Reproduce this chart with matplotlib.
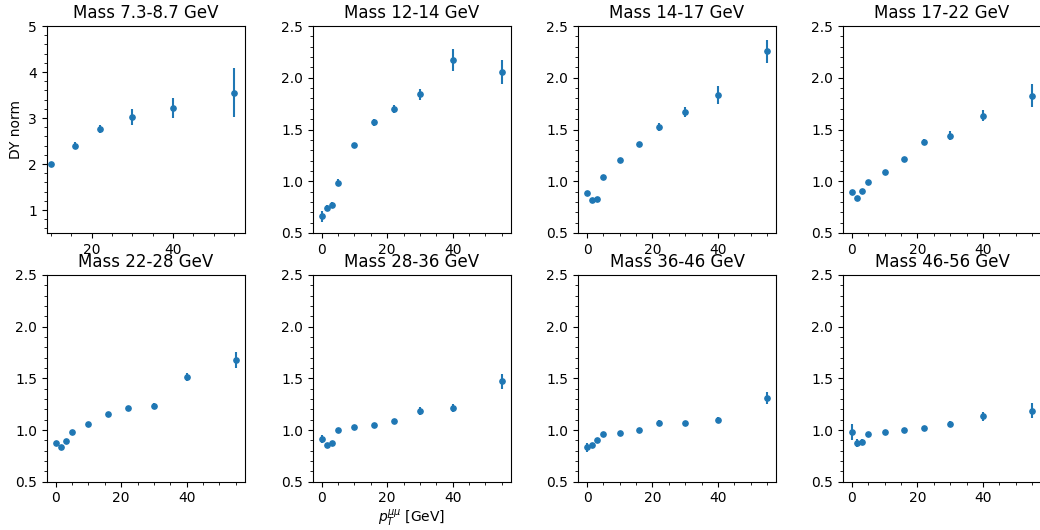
import matplotlib
matplotlib.use("Agg")
import matplotlib.pyplot as plt
from matplotlib.ticker import AutoMinorLocator

# pT bin centres (GeV)
pt_full = [0, 1.5, 3, 5, 10, 16, 22, 30, 40, 55]
pt_low_mass = [10, 16, 22, 30, 40, 55]

mass_bins = ["7.3-8.7", "12-14", "14-17", "17-22",
             "22-28", "28-36", "36-46", "46-56"]

# Normalised Drell-Yan ratio and its uncertainty in each mass bin
dy_7p3_8p7 = [2.00, 2.40, 2.76, 3.02, 3.21, 3.55]
err_7p3_8p7 = [0.05, 0.07, 0.08, 0.17, 0.22, 0.53]

dy_12_14 = [0.661, 0.742, 0.768, 0.987, 1.348, 1.568, 1.700, 1.839, 2.174, 2.055]
err_12_14 = [0.05, 0.03, 0.03, 0.03, 0.02, 0.03, 0.04, 0.05, 0.108, 0.115]

dy_14_17 = [0.887, 0.816, 0.829, 1.042, 1.203, 1.358, 1.523, 1.671, 1.835, 2.255]
err_14_17 = [0.02, 0.015, 0.015, 0.015, 0.015, 0.02, 0.04, 0.05, 0.09, 0.113]

dy_17_22 = [0.894, 0.835, 0.910, 0.997, 1.094, 1.219, 1.377, 1.442, 1.635, 1.826]
err_17_22 = [0.015, 0.015, 0.015, 0.015, 0.015, 0.02, 0.03, 0.04, 0.05, 0.11]

dy_22_28 = [0.871, 0.832, 0.897, 0.981, 1.061, 1.158, 1.213, 1.232, 1.513, 1.677]
err_22_28 = [0.02, 0.015, 0.015, 0.015, 0.015, 0.015, 0.02, 0.03, 0.04, 0.075]

dy_28_36 = [0.916, 0.852, 0.877, 0.997, 1.026, 1.048, 1.090, 1.187, 1.216, 1.471]
err_28_36 = [0.04, 0.015, 0.015, 0.015, 0.015, 0.015, 0.02, 0.04, 0.04, 0.07]

dy_36_46 = [0.832, 0.855, 0.903, 0.965, 0.974, 1.003, 1.071, 1.068, 1.094, 1.310]
err_36_46 = [0.04, 0.02, 0.015, 0.015, 0.015, 0.015, 0.03, 0.02, 0.03, 0.06]

dy_46_56 = [0.981, 0.877, 0.884, 0.958, 0.984, 1.003, 1.023, 1.055, 1.132, 1.187]
err_46_56 = [0.077, 0.04, 0.03, 0.015, 0.015, 0.02, 0.02, 0.03, 0.04, 0.07]

panels = [
    (pt_low_mass, dy_7p3_8p7, err_7p3_8p7),
    (pt_full, dy_12_14, err_12_14),
    (pt_full, dy_14_17, err_14_17),
    (pt_full, dy_17_22, err_17_22),
    (pt_full, dy_22_28, err_22_28),
    (pt_full, dy_28_36, err_28_36),
    (pt_full, dy_36_46, err_36_46),
    (pt_full, dy_46_56, err_46_56),
]

W, H = 1040, 530
fig = plt.figure(figsize=(W / 100, H / 100), dpi=100)

col_left = [46.7, 312.7, 578.0, 843.0]
ax_w = 198.0
row_top = [26.0, 275.0]
row_bot = [233.0, 481.7]

for i, ((x, y, e), label) in enumerate(zip(panels, mass_bins)):
    r, c = divmod(i, 4)
    left = col_left[c] / W
    bottom = 1 - row_bot[r] / H
    height = (row_bot[r] - row_top[r]) / H
    ax = fig.add_axes([left, bottom, ax_w / W, height])
    ax.errorbar(x, y, yerr=e, fmt="o", color="#1f77b4", markersize=3.8,
                elinewidth=1.5)
    ax.set_title(f"Mass {label} GeV", fontsize=12)
    if i == 0:
        ax.set_ylim(0.5, 5)
        ax.set_xlim(9.0, 57.6)
        ax.set_ylabel("DY norm")
    else:
        ax.set_ylim(0.5, 2.5)
    ax.xaxis.set_minor_locator(AutoMinorLocator())
    ax.yaxis.set_minor_locator(AutoMinorLocator())
    if i == 5:
        ax.set_xlabel(r"$p_T^{\mu\mu}$ [GeV]", labelpad=2)

fig.savefig("out.png", dpi=100)
